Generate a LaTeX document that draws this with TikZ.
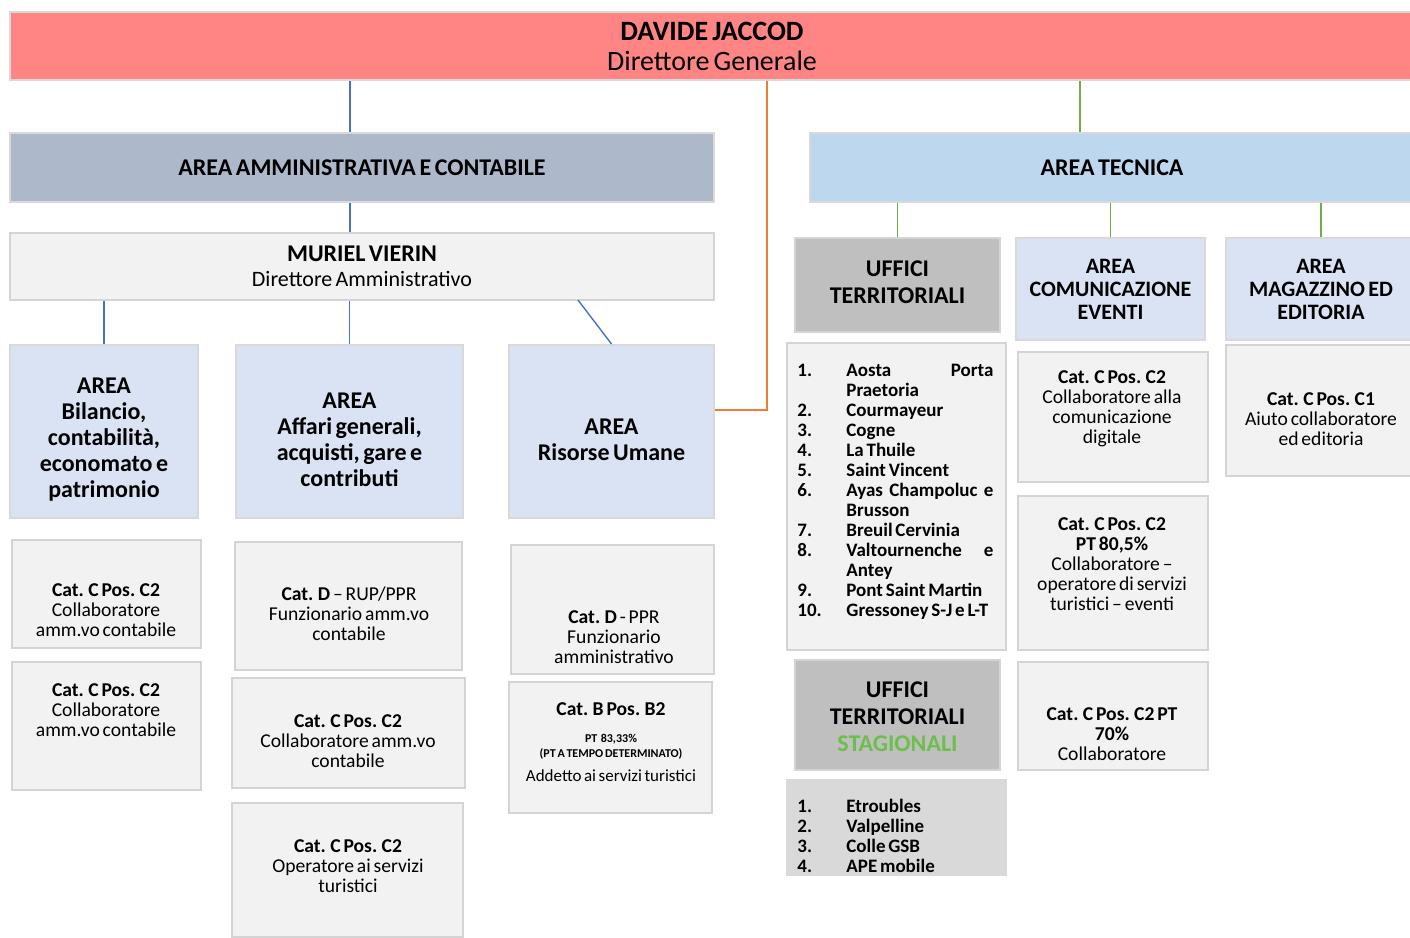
\documentclass[tikz,border=0pt]{standalone}
\usepackage{fontspec}
\setmainfont{Carlito}[WordSpace=0.65]
\usetikzlibrary{fit}
\definecolor{dgred}{HTML}{FF8585}
\definecolor{amgray}{HTML}{ADB9CA}
\definecolor{tecblue}{HTML}{BDD7EE}
\definecolor{areablue}{HTML}{DAE3F3}
\definecolor{cardgray}{HTML}{F2F2F2}
\definecolor{utgray}{HTML}{BFBFBF}
\definecolor{listgray}{HTML}{D9D9D9}
\definecolor{edgeblue}{HTML}{4472C4}
\definecolor{edgeorange}{HTML}{ED7D31}
\definecolor{edgegreen}{HTML}{70AD47}
\definecolor{stagreen}{HTML}{6CC04A}
\tikzset{
    boxdg/.style = {rectangle, inner sep=0pt, line width=1pt, draw=black!15, fill=dgred},
    boxam/.style = {rectangle, inner sep=0pt, line width=1pt, draw=black!15, fill=amgray},
    boxtec/.style = {rectangle, inner sep=0pt, line width=1pt, draw=black!15, fill=tecblue},
    boxarea/.style = {rectangle, inner sep=0pt, line width=1pt, draw=black!15, fill=areablue},
    boxcard/.style = {rectangle, inner sep=0pt, line width=1pt, draw=black!17, fill=cardgray},
    boxut/.style = {rectangle, inner sep=0pt, line width=1pt, draw=black!17, fill=utgray},
    boxlist/.style = {rectangle, inner sep=0pt, line width=1pt, draw=listgray, fill=listgray},
    txtdg/.style = {align=center, inner sep=0pt, font=\fontsize{14}{15}\selectfont},
    txthead/.style = {align=center, inner sep=0pt, font=\fontsize{12}{13}\selectfont\bfseries},
    txtarea/.style = {align=center, inner sep=0pt, yshift=-4pt, font=\fontsize{12}{13}\selectfont\bfseries},
    txtut/.style = {align=center, inner sep=0pt, font=\fontsize{12}{13.5}\selectfont\bfseries},
    txtsub/.style = {align=center, inner sep=0pt, font=\fontsize{11}{11.5}\selectfont\bfseries},
    txtcard/.style = {align=center, inner sep=0pt, font=\fontsize{9.8}{10}\selectfont},
    txtlist/.style = {anchor=north west, inner sep=0pt, font=\fontsize{9.5}{10}\selectfont\bfseries},
    edgeb/.style = {-, line width=0.7pt, edgeblue},
    edgeo/.style = {-, line width=0.8pt, edgeorange},
    edgeg/.style = {-, line width=0.7pt, edgegreen}
}
\begin{document}
\begin{tikzpicture}[x=0.5pt, y=-0.5pt]
  \useasboundingbox (0,0) rectangle (1410,938);

  % direzione
  \node[boxdg, fit={(10,12) (1414,80)}] (dg) {};
  \node[txtdg] at (dg.center) {\textbf{DAVIDE JACCOD}\\Direttore Generale};
  \node[boxam, fit={(10,133) (714,202)}] (aac) {};
  \node[txthead] at (aac.center) {AREA AMMINISTRATIVA E CONTABILE};
  \node[boxtec, fit={(810,133) (1414,202)}] (tec) {};
  \node[txthead] at (tec.center) {AREA TECNICA};
  \node[boxcard, fit={(10,233) (714,300)}] (mv) {};
  \node[align=center, inner sep=0pt, font=\fontsize{11}{12.5}\selectfont] at (mv.center)
    {{\fontsize{12}{12.5}\selectfont\textbf{MURIEL VIERIN}}\\Direttore Amministrativo};

  % aree amministrative
  \node[boxarea, fit={(10,345) (198,518)}] (bil) {};
  \node[txtarea] at (bil.center) {AREA\\Bilancio,\\contabilità,\\economato e\\patrimonio};
  \node[boxarea, fit={(236,345) (463,518)}] (aff) {};
  \node[txtarea] at (aff.center) {AREA\\Affari generali,\\acquisti, gare e\\contributi};
  \node[boxarea, fit={(509,345) (714,518)}] (hr) {};
  \node[txtarea] at (hr.center) {AREA\\Risorse Umane};

  % bilancio
  \node[boxcard, fit={(12,540) (201,648)}] (bil1) {};
  \node[txtcard] at (106,610) {\textbf{Cat. C Pos. C2}\\Collaboratore\\amm.vo contabile};
  \node[boxcard, fit={(12,662) (201,790)}] (bil2) {};
  \node[txtcard] at (106,710) {\textbf{Cat. C Pos. C2}\\Collaboratore\\amm.vo contabile};

  % affari generali
  \node[boxcard, fit={(235,542) (462,670)}] (aff1) {};
  \node[txtcard] at (349,614) {\textbf{Cat. D} -- RUP/PPR\\Funzionario amm.vo\\contabile};
  \node[boxcard, fit={(232,678) (465,788)}] (aff2) {};
  \node[txtcard] at (348,741) {\textbf{Cat. C Pos. C2}\\Collaboratore amm.vo\\contabile};
  \node[boxcard, fit={(232,803) (463,937)}] (aff3) {};
  \node[txtcard] at (348,866) {\textbf{Cat. C Pos. C2}\\Operatore ai servizi\\turistici};

  % risorse umane
  \node[boxcard, fit={(511,545) (714,674)}] (hr1) {};
  \node[txtcard] at (614,637) {\textbf{Cat. D} - PPR\\Funzionario\\amministrativo};
  \node[boxcard, fit={(509,682) (712,813)}] (hr2) {};
  \node[txtcard] at (611,742) {\textbf{Cat. B Pos. B2}\\[3.5pt]
    {\fontsize{6}{7}\selectfont\textbf{PT\ \ 83,33\%}}\\[-2.5pt]
    {\fontsize{6}{7}\selectfont\textbf{(PT A TEMPO DETERMINATO)}}\\[2pt]
    {\fontsize{8.5}{10}\selectfont Addetto ai servizi turistici}};

  % area tecnica
  \node[boxut, fit={(795,238) (1000,332)}] (ut) {};
  \node[txtut, yshift=1.5pt] at (ut.center) {UFFICI\\TERRITORIALI};
  \node[boxarea, fit={(1016,238) (1205,340)}] (com) {};
  \node[txtsub] at (com.center) {AREA\\COMUNICAZIONE\\EVENTI};
  \node[boxarea, fit={(1226,238) (1416,340)}] (mag) {};
  \node[txtsub] at (1321,289) {AREA\\MAGAZZINO ED\\EDITORIA};

  \node[boxcard, fit={(787,343) (1006,650)}] (utl) {};
  \node[txtlist] at (797,362) {\begin{tabular}{@{}p{24.5pt}@{}l@{}}
    1. & \makebox[73.5pt][s]{Aosta Porta}\\
       & Praetoria\\
    2. & Courmayeur\\
    3. & Cogne\\
    4. & La Thuile\\
    5. & Saint Vincent\\
    6. & \makebox[73.5pt][s]{Ayas Champoluc e}\\
       & Brusson\\
    7. & Breuil Cervinia\\
    8. & \makebox[73.5pt][s]{Valtournenche e}\\
       & Antey\\
    9. & Pont Saint Martin\\
    10. & Gressoney S-J e L-T
  \end{tabular}};

  \node[boxut, fit={(795,660) (1000,770)}] (uts) {};
  \node[txtut, yshift=-1pt] at (uts.center) {UFFICI\\TERRITORIALI\\\textcolor{stagreen}{STAGIONALI}};
  \node[boxlist, fit={(787,780) (1006,875)}] (utsl) {};
  \node[txtlist] at (797,798) {\begin{tabular}{@{}p{24.5pt}@{}l@{}}
    1. & Etroubles\\
    2. & Valpelline\\
    3. & Colle GSB\\
    4. & APE mobile
  \end{tabular}};

  % comunicazione eventi
  \node[boxcard, fit={(1018,352) (1208,482)}] (com1) {};
  \node[txtcard] at (1112,409) {\textbf{Cat. C Pos. C2}\\Collaboratore alla\\comunicazione\\digitale};
  \node[boxcard, fit={(1018,496) (1208,650)}] (com2) {};
  \node[txtcard] at (1112,564) {\textbf{Cat. C Pos. C2}\\\textbf{PT 80,5\%}\\Collaboratore --\\operatore di servizi\\turistici -- eventi};
  \node[boxcard, fit={(1018,662) (1208,770)}] (com3) {};
  \node[txtcard] at (1112,734) {\textbf{Cat. C Pos. C2 PT}\\\textbf{70\%}\\Collaboratore};

  % magazzino
  \node[boxcard, fit={(1226,345) (1416,476)}] (mag1) {};
  \node[txtcard] at (1321,419) {\textbf{Cat. C Pos. C1}\\Aiuto collaboratore\\ed editoria};

  % collegamenti
  \coordinate (kb) at (350,0);
  \coordinate (kg) at (1080,0);
  \coordinate (ko) at (767,410);
  \coordinate (kr) at (578,300);
  \draw[edgeb] (dg.south -| kb) -- (aac.north -| kb);
  \draw[edgeb] (aac.south -| kb) -- (mv.north -| kb);
  \draw[edgeb] (mv.south -| bil.north) -- (bil.north);
  \draw[edgeb] (mv.south -| aff.north) -- (aff.north);
  \draw[edgeb] (kr) -- (hr.north);
  \draw[edgeo] (dg.south -| ko) -- (ko) -- (hr.east |- ko);
  \draw[edgeg] (dg.south -| kg) -- (tec.north -| kg);
  \draw[edgeg] (tec.south -| ut.north) -- (ut.north);
  \draw[edgeg] (tec.south -| com.north) -- (com.north);
  \draw[edgeg] (tec.south -| mag.north) -- (mag.north);
\end{tikzpicture}
\end{document}
